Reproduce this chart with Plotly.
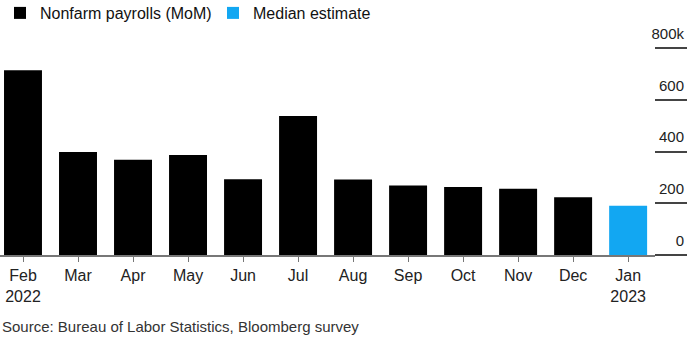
import plotly.graph_objects as go

months = ["Feb<br>2022", "Mar", "Apr", "May", "Jun", "Jul", "Aug", "Sep", "Oct", "Nov", "Dec", "Jan<br>2023"]
payrolls = [714, 398, 368, 386, 293, 537, 292, 269, 263, 256, 223, None]
median_est = [None, None, None, None, None, None, None, None, None, None, None, 190]
y_ticks = [0, 200, 400, 600, 800]
y_tick_text = ["0", "200", "400", "600", "800k"]

FONT = "Arial, Liberation Sans, sans-serif"

# plot area spans pixel rows 20..270; value axis 0 at row 255, 800k at row 48
PLOT_TOP, PLOT_BOT = 20, 270
ZERO_PX, TOP_PX = 255, 48
H = PLOT_BOT - PLOT_TOP
px_per_k = (ZERO_PX - TOP_PX) / 800
y_dom = [(PLOT_BOT - ZERO_PX) / H, (PLOT_BOT - TOP_PX) / H]
y2_range = [-(PLOT_BOT - ZERO_PX) / px_per_k, 800 + (TOP_PX - PLOT_TOP) / px_per_k]

fig = go.Figure()
fig.add_trace(go.Bar(x=months, y=payrolls, name="Nonfarm payrolls (MoM)",
                     marker=dict(color="#000000", line=dict(width=0)), width=0.69))
fig.add_trace(go.Bar(x=months, y=median_est, name="Median estimate",
                     marker=dict(color="#12a7f2", line=dict(width=0)), width=0.69))
# helper trace so the right-hand value axis (short gridlines) is drawn
fig.add_trace(go.Scatter(x=[None], y=[None], xaxis="x2", yaxis="y2",
                         showlegend=False, hoverinfo="skip"))

fig.update_layout(
    width=700, height=350,
    margin=dict(l=0, r=13, t=PLOT_TOP, b=350 - PLOT_BOT, autoexpand=False),
    paper_bgcolor="white", plot_bgcolor="white",
    barmode="overlay",
    font=dict(family=FONT, size=16, color="#222"),
    showlegend=True,
    legend=dict(orientation="h", x=0, xanchor="left", y=1 + (PLOT_TOP + 4) / H, yanchor="top",
                font=dict(size=16, color="#111"), entrywidthmode="pixels", entrywidth=168,
                itemwidth=30, tracegroupgap=0, bgcolor="rgba(0,0,0,0)"),
    hovermode=False,
    xaxis=dict(
        type="category", range=[-0.418, 12.07], anchor="y",
        showline=True, linecolor="#777", linewidth=1.5,
        ticks="outside", ticklen=5, tickcolor="#777", tickwidth=1,
        showgrid=False, tickfont=dict(size=16, color="#222"),
    ),
    yaxis=dict(domain=y_dom, range=[0, 800], showticklabels=False, showgrid=False,
               zeroline=False, showline=False, ticks=""),
    xaxis2=dict(domain=[655 / 687, 1], range=[0, 1], anchor="y2",
                showgrid=False, showline=False, zeroline=False,
                showticklabels=False, ticks=""),
    yaxis2=dict(
        domain=[0, 1], range=y2_range, anchor="x2", side="right",
        tickvals=y_ticks, ticktext=y_tick_text,
        showgrid=True, gridcolor="#444", gridwidth=1.5, zeroline=False, showline=False,
        ticks="", ticklabelposition="inside top", ticklabelshift=-4,
        tickfont=dict(size=15, color="#222"),
    ),
    annotations=[dict(text="Source: Bureau of Labor Statistics, Bloomberg survey",
                      xref="paper", yref="paper", x=0, y=(PLOT_BOT - 326) / H,
                      xanchor="left", yanchor="middle", showarrow=False,
                      font=dict(size=15, color="#333"))],
)

fig.write_html("out.html")
